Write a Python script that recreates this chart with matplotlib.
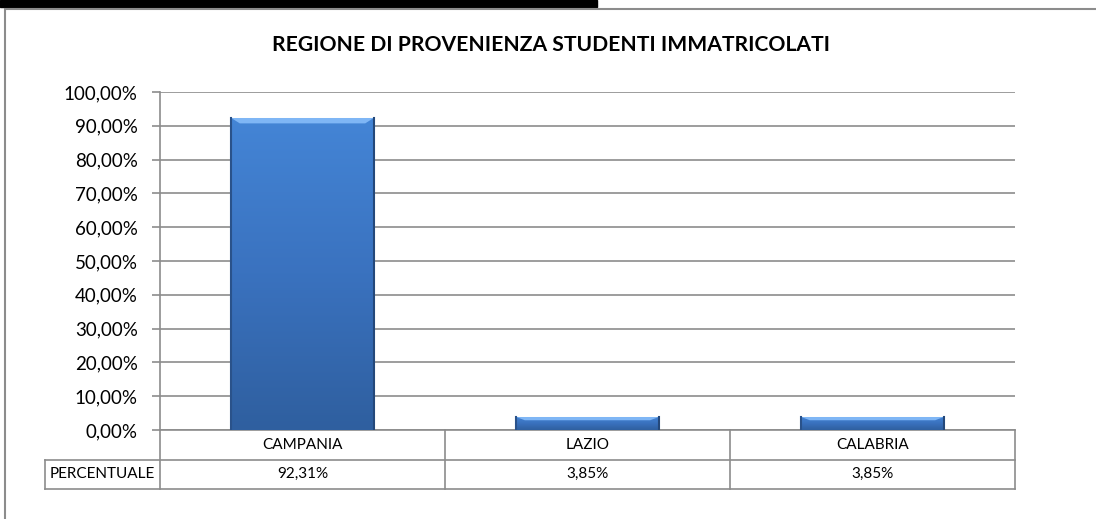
import matplotlib.pyplot as plt
import numpy as np
from matplotlib.colors import LinearSegmentedColormap
from matplotlib.patches import Rectangle

plt.rcParams['font.family'] = ['Lato', 'DejaVu Sans']

regions = ['CAMPANIA', 'LAZIO', 'CALABRIA']
percent = [92.31, 3.85, 3.85]
row_label = 'PERCENTUALE'
title = 'REGIONE DI PROVENIENZA STUDENTI IMMATRICOLATI'

W, H = 1096, 519
fig = plt.figure(figsize=(W / 100, H / 100), dpi=100)

# black strip and chart frame
fig.patches.append(Rectangle((0, 1 - 7 / H), 597 / W, 7 / H, transform=fig.transFigure,
                             color='black', zorder=0))
fig.patches.append(Rectangle((5 / W, -0.1), 1.2, 1 - 9 / H + 0.1, transform=fig.transFigure,
                             fill=False, edgecolor='#8c8c8c', lw=1.5, zorder=0))

x0, x1, y0, y1 = 160, 1015, 430, 92
ax = fig.add_axes([x0 / W, 1 - y0 / H, (x1 - x0) / W, (y0 - y1) / H])

x = np.arange(len(regions))
ax.set_ylim(0, 100)

cmap = LinearSegmentedColormap.from_list('bar', ['#2f5f9f', '#3a72bf', '#4485d6'])
bars = ax.bar(x, percent, 0.5, color='none', edgecolor='none', zorder=3)
for b in bars:
    bx, bw, bh = b.get_x(), b.get_width(), b.get_height()
    grad = np.linspace(0, 1, 256).reshape(-1, 1)
    im = ax.imshow(grad, extent=(bx, bx + bw, 0, bh), origin='lower', aspect='auto',
                   cmap=cmap, zorder=3)
    im.set_clip_path(b)
    # bevel highlights
    t = min(1.6, bh * 0.25)
    ax.fill([bx, bx + bw, bx + bw - 0.03, bx + 0.03], [bh, bh, bh - t, bh - t],
            color='#7fb6f5', zorder=4, lw=0)
    ax.plot([bx, bx], [0, bh], color='#2a528a', lw=1.5, zorder=4)
    ax.plot([bx + bw, bx + bw], [0, bh], color='#24487a', lw=1.5, zorder=4)
ax.set_xlim(-0.5, len(regions) - 0.5)

ax.set_yticks(np.arange(0, 101, 10))
ax.set_yticklabels([f'{v:.2f}%'.replace('.', ',') for v in range(0, 101, 10)], fontsize=13.5)
ax.yaxis.grid(True, color='#8c8c8c', lw=1.2, zorder=0)
ax.set_xticks([])
ax.tick_params(axis='y', length=6, color='#8c8c8c', width=1.2, pad=10)
for s in ['top', 'right', 'bottom']:
    ax.spines[s].set_visible(False)
ax.spines['left'].set_color('#8c8c8c')
ax.spines['left'].set_linewidth(1.2)

fig.text(551 / W, 1 - 45 / H, title, ha='center', va='center', fontsize=15.2, fontweight='bold')

# data table under the plot
rh = 29.5 / (y0 - y1)
gc = '#8c8c8c'
kw = dict(transform=ax.transAxes, clip_on=False, color=gc, lw=1.2)
left = -(x0 - 45) / (x1 - x0)
ax.plot([0, 1], [0, 0], **kw)
ax.plot([left, 1], [-rh, -rh], **kw)
ax.plot([left, 1], [-2 * rh, -2 * rh], **kw)
ax.plot([left, left], [-rh, -2 * rh], **kw)
for i in range(len(regions) + 1):
    xf = i / len(regions)
    ax.plot([xf, xf], [0, -2 * rh], **kw)
for i, (r, p) in enumerate(zip(regions, percent)):
    xc = (i + 0.5) / len(regions)
    ax.text(xc, -rh / 2, r, transform=ax.transAxes, ha='center', va='center', fontsize=11)
    ax.text(xc, -1.5 * rh, f'{p:.2f}%'.replace('.', ','), transform=ax.transAxes,
            ha='center', va='center', fontsize=11)
ax.text(left / 2, -1.5 * rh, row_label, transform=ax.transAxes, ha='center', va='center',
        fontsize=11)

fig.savefig('out.png', dpi=100)
